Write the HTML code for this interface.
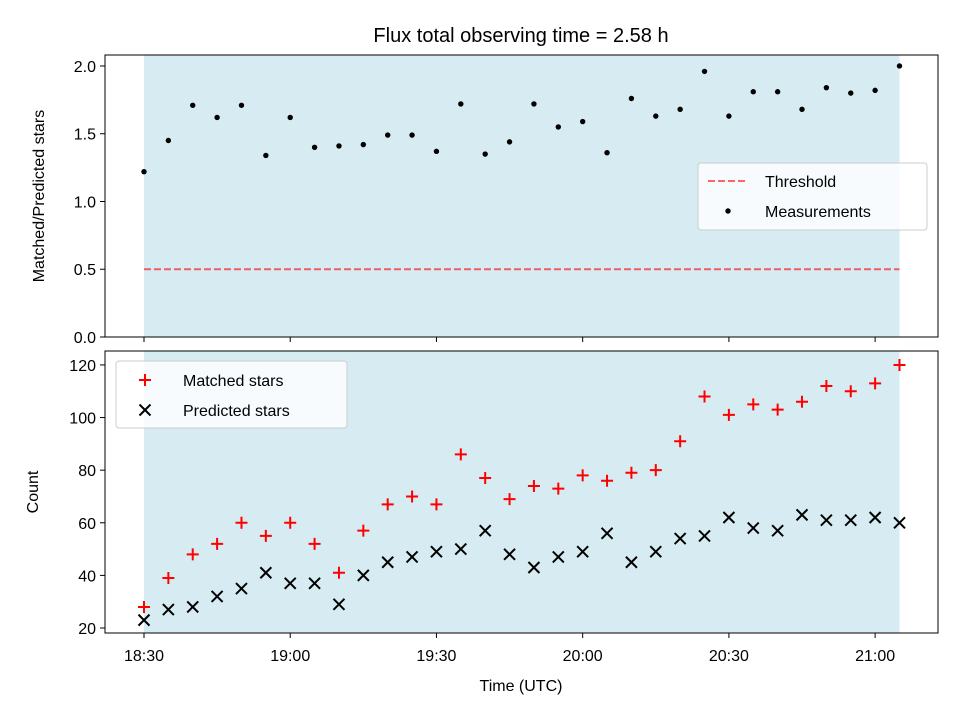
<!DOCTYPE html>
<html><head><meta charset="utf-8"><style>
body{margin:0;background:#fff;}
svg{font-family:"Liberation Sans","DejaVu Sans",sans-serif;}
</style></head><body>
<svg id="chart" width="960" height="720" xmlns="http://www.w3.org/2000/svg"></svg>
<script>
const minutes=[0,5,10,15,20,25,30,35,40,45,50,55,60,65,70,75,80,85,90,95,100,105,110,115,120,125,130,135,140,145,150,155];
const ratio=[1.22,1.45,1.71,1.62,1.71,1.34,1.62,1.40,1.41,1.42,1.49,1.49,1.37,1.72,1.35,1.44,1.72,1.55,1.59,1.36,1.76,1.63,1.68,1.96,1.63,1.81,1.81,1.68,1.84,1.80,1.82,2.00];
const matched=[28,39,48,52,60,55,60,52,41,57,67,70,67,86,77,69,74,73,78,76,79,80,91,108,101,105,103,106,112,110,113,120];
const predicted=[23,27,28,32,35,41,37,37,29,40,45,47,49,50,57,48,43,47,49,56,45,49,54,55,62,58,57,63,61,61,62,60];
const threshold=0.5;
const xTickMin=[0,30,60,90,120,150];
const xTickLabels=["18:30","19:00","19:30","20:00","20:30","21:00"];
const topTicks=[0,0.5,1.0,1.5,2.0];
const botTicks=[20,40,60,80,100,120];

const svg=document.getElementById('chart');
const NS="http://www.w3.org/2000/svg";
function el(tag,attrs,parent){const e=document.createElementNS(NS,tag);for(const k in attrs)e.setAttribute(k,attrs[k]);(parent||svg).appendChild(e);return e;}
const L=105,R=938;
const xmin=-8.0,xmax=162.9;
const X=m=>L+(m-xmin)/(xmax-xmin)*(R-L);
const T1=55,B1=337,T2=351,B2=633;
const Y1=v=>B1-(v-0)/(2.081)*(B1-T1);
const Y2=v=>B2-(v-18.1)/(125.3-18.1)*(B2-T2);
const spanL=X(minutes[0]),spanR=X(minutes[minutes.length-1]);

let t=el('text',{x:521,y:42,'font-size':20,'text-anchor':'middle'});t.textContent="Flux total observing time = 2.58 h";


let s=el('rect',{x:spanL,y:T1,width:spanR-spanL,height:B1-T1,fill:'#add8e6','fill-opacity':0.5});

let th=el('line',{x1:spanL,x2:spanR,y1:Y1(threshold),y2:Y1(threshold),stroke:'#ff0000','stroke-opacity':0.6,'stroke-width':2,'stroke-dasharray':'7,3'});

ratio.forEach((v,i)=>{const c=el('circle',{cx:X(minutes[i]),cy:Y1(v),r:2.7,fill:'#000'});
});
let f1=el('rect',{x:L,y:T1,width:R-L,height:B1-T1,fill:'none',stroke:'#000','stroke-width':1});

topTicks.forEach(v=>{el('line',{x1:L-5,x2:L,y1:Y1(v),y2:Y1(v),stroke:'#000'});
const tx=el('text',{x:L-9,y:Y1(v)+6,'font-size':16,'text-anchor':'end'});tx.textContent=v.toFixed(1);
});
xTickMin.forEach(m=>el('line',{x1:X(m),x2:X(m),y1:B1,y2:B1+5,stroke:'#000'}));
let yl1=el('text',{x:0,y:0,'font-size':16,'text-anchor':'middle',transform:`translate(44,${(T1+B1)/2}) rotate(-90)`});yl1.textContent="Matched/Predicted stars";

let lg1=el('g',{});
el('rect',{x:698,y:163,width:229,height:67,rx:3,fill:'#fff','fill-opacity':0.8,stroke:'#ccc'},lg1);
el('line',{x1:708,x2:748,y1:181,y2:181,stroke:'#ff0000','stroke-opacity':0.6,'stroke-width':2,'stroke-dasharray':'7,3'},lg1);
let a=el('text',{x:765,y:187,'font-size':16},lg1);a.textContent="Threshold";
el('circle',{cx:728,cy:211,r:2.7,fill:'#000'},lg1);
a=el('text',{x:765,y:217,'font-size':16},lg1);a.textContent="Measurements";

s=el('rect',{x:spanL,y:T2,width:spanR-spanL,height:B2-T2,fill:'#add8e6','fill-opacity':0.5});

function plus(x,y,g,name){const p=el('path',{d:`M${x-6},${y}H${x+6}M${x},${y-6}V${y+6}`,stroke:'#ff0000','stroke-width':2},g);}
function cross(x,y,g,name){const p=el('path',{d:`M${x-5.5},${y-5.5}L${x+5.5},${y+5.5}M${x-5.5},${y+5.5}L${x+5.5},${y-5.5}`,stroke:'#000','stroke-width':2},g);}
matched.forEach((v,i)=>plus(X(minutes[i]),Y2(v),svg,'matched-point'));
predicted.forEach((v,i)=>cross(X(minutes[i]),Y2(v),svg,'predicted-point'));
let f2=el('rect',{x:L,y:T2,width:R-L,height:B2-T2,fill:'none',stroke:'#000','stroke-width':1});

botTicks.forEach(v=>{el('line',{x1:L-5,x2:L,y1:Y2(v),y2:Y2(v),stroke:'#000'});
const tx=el('text',{x:L-9,y:Y2(v)+6,'font-size':16,'text-anchor':'end'});tx.textContent=v;
});
xTickMin.forEach((m,i)=>{el('line',{x1:X(m),x2:X(m),y1:B2,y2:B2+5,stroke:'#000'});
const tx=el('text',{x:X(m),y:B2+28,'font-size':16,'text-anchor':'middle'});tx.textContent=xTickLabels[i];
});
let yl2=el('text',{x:0,y:0,'font-size':16,'text-anchor':'middle',transform:`translate(38,${(T2+B2)/2}) rotate(-90)`});yl2.textContent="Count";

let xl=el('text',{x:521,y:691,'font-size':16,'text-anchor':'middle'});xl.textContent="Time (UTC)";

let lg2=el('g',{});
el('rect',{x:116,y:361,width:231,height:67,rx:3,fill:'#fff','fill-opacity':0.8,stroke:'#ccc'},lg2);
plus(145,380,lg2,'legend-matched-marker');
a=el('text',{x:183,y:386,'font-size':16},lg2);a.textContent="Matched stars";
cross(145,410,lg2,'legend-predicted-marker');
a=el('text',{x:183,y:416,'font-size':16},lg2);a.textContent="Predicted stars";
</script>
</body></html>
